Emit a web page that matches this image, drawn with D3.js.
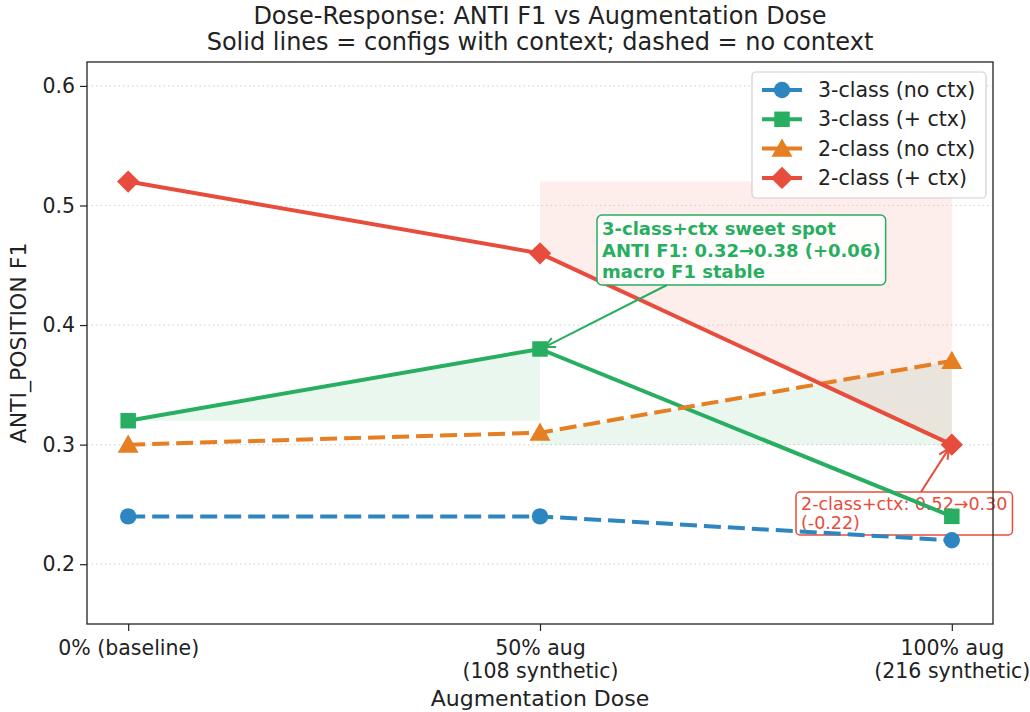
<!DOCTYPE html>
<html>
<head>
<meta charset="utf-8">
<script src="https://cdn.jsdelivr.net/npm/d3@7"></script>
<style>
  body { margin: 0; background: #fff; }
  text { font-family: 'DejaVu Sans', sans-serif; }
</style>
</head>
<body>
<script>
// chart data
let doses = [0, 1, 2]
let doseLabels = [['0% (baseline)'], ['50% aug', '(108 synthetic)'], ['100% aug', '(216 synthetic)']]
let seriesNames = ['3-class (no ctx)', '3-class (+ ctx)', '2-class (no ctx)', '2-class (+ ctx)']
let threeNoCtx = [0.24, 0.24, 0.22]
let threeCtx = [0.32, 0.38, 0.24]
let twoNoCtx = [0.30, 0.31, 0.37]
let twoCtx = [0.52, 0.46, 0.30]
let yTicks = [0.2, 0.3, 0.4, 0.5, 0.6]

// measurements
let m = { width: 1030, height: 712, left: 87, right: 993, top: 62, bottom: 624 }

let series = [
  { name: seriesNames[0], values: threeNoCtx, color: '#2e86c1', dashed: true, shape: 'circle' },
  { name: seriesNames[1], values: threeCtx, color: '#27ae60', dashed: false, shape: 'square' },
  { name: seriesNames[2], values: twoNoCtx, color: '#e67e22', dashed: true, shape: 'triangle' },
  { name: seriesNames[3], values: twoCtx, color: '#e74c3c', dashed: false, shape: 'diamond' },
]

let svg = d3.select('body')
  .append('svg')
  .attr('width', m.width)
  .attr('height', m.height)

let xScale = d3.scaleLinear().domain([-0.1, 2.1]).range([m.left, m.right])
let yScale = d3.scaleLinear().domain([0.15, 0.62]).range([m.bottom, m.top])

// arrow markers
let defs = svg.append('defs')
function arrowHead(id, color) {
  defs.append('marker')
    .attr('id', id)
    .attr('viewBox', '0 0 12 12')
    .attr('refX', 11).attr('refY', 6)
    .attr('markerWidth', 12).attr('markerHeight', 12)
    .attr('markerUnits', 'userSpaceOnUse')
    .attr('orient', 'auto')
    .append('path')
    .attr('d', 'M1,1 L11,6 L1,11')
    .attr('fill', 'none')
    .attr('stroke', color)
    .attr('stroke-width', 2)
}
arrowHead('arrG', '#27ae60')
arrowHead('arrR', '#e74c3c')

// grid
svg.append('g')
  .selectAll('line')
  .data(yTicks)
  .enter()
  .append('line')
    .attr('x1', m.left).attr('x2', m.right)
    .attr('y1', function(d) { return yScale(d) })
    .attr('y2', function(d) { return yScale(d) })
    .attr('stroke', '#d8d8d8')
    .attr('stroke-width', 1.2)
    .attr('stroke-dasharray', '1.5,3')

// shaded regions
let area = d3.area()
  .x(function(d) { return xScale(d[0]) })
  .y0(function(d) { return yScale(d[1]) })
  .y1(function(d) { return yScale(d[2]) })

// 3-class ctx gain, 0 -> 50%
svg.append('path')
  .datum([[doses[0], threeCtx[0], threeCtx[0]], [doses[1], threeCtx[0], threeCtx[1]]])
  .attr('d', area)
  .attr('fill', '#27ae60').attr('fill-opacity', 0.1)

// 2-class no ctx gain, 50 -> 100%
svg.append('path')
  .datum([[doses[1], twoNoCtx[0], twoNoCtx[1]], [doses[2], twoNoCtx[0], twoNoCtx[2]]])
  .attr('d', area)
  .attr('fill', '#27ae60').attr('fill-opacity', 0.1)

// 2-class ctx loss, 50 -> 100%
svg.append('path')
  .datum([[doses[1], twoCtx[1], twoCtx[0]], [doses[2], twoCtx[2], twoCtx[0]]])
  .attr('d', area)
  .attr('fill', '#e74c3c').attr('fill-opacity', 0.1)

// red annotation (drawn under the lines)
let redNote = svg.append('g')
let redText = redNote.append('text')
  .attr('fill', '#e74c3c')
  .attr('font-size', 17.5)
redText.append('tspan').attr('x', 801).attr('y', 510).text('2-class+ctx: 0.52\u21920.30')
redText.append('tspan').attr('x', 801).attr('y', 529).text('(-0.22)')
let rb = redText.node().getBBox()
redNote.insert('rect', 'text')
  .attr('x', rb.x - 5).attr('y', rb.y - 2)
  .attr('width', rb.width + 10).attr('height', rb.height + 4)
  .attr('rx', 4)
  .attr('fill', '#fff').attr('fill-opacity', 0.85)
  .attr('stroke', '#e74c3c').attr('stroke-width', 1.5)
svg.append('line')
  .attr('x1', 921).attr('y1', rb.y - 2)
  .attr('x2', xScale(doses[2]) - 3).attr('y2', yScale(twoCtx[2]) + 4)
  .attr('stroke', '#e74c3c').attr('stroke-width', 2)
  .attr('marker-end', 'url(#arrR)')

// lines
let line = d3.line()
  .x(function(d, i) { return xScale(doses[i]) })
  .y(function(d) { return yScale(d) })

series.forEach(function(s) {
  svg.append('path')
    .datum(s.values)
    .attr('d', line)
    .attr('fill', 'none')
    .attr('stroke', s.color)
    .attr('stroke-width', 4)
    .attr('stroke-dasharray', s.dashed ? '17,7' : null)
})

// marker symbols
function drawMarker(g, shape, cx, cy, color) {
  let sym = { circle: d3.symbolCircle, square: d3.symbolSquare, triangle: d3.symbolTriangle, diamond: d3.symbolSquare }
  let size = { circle: 210, square: 240, triangle: 190, diamond: 250 }
  let tr = 'translate(' + cx + ',' + (cy + (shape === 'triangle' ? 2 : 0)) + ')'
  if (shape === 'diamond') tr += ' rotate(45)'
  g.append('path')
    .attr('d', d3.symbol().type(sym[shape]).size(size[shape]))
    .attr('transform', tr)
    .attr('fill', color)
}

series.forEach(function(s) {
  s.values.forEach(function(v, i) {
    drawMarker(svg, s.shape, xScale(doses[i]), yScale(v), s.color)
  })
})

// green annotation (on top)
let greenNote = svg.append('g')
let greenText = greenNote.append('text')
  .attr('fill', '#27ae60')
  .attr('font-size', 18)
  .attr('font-weight', 'bold')
greenText.append('tspan').attr('x', 602).attr('y', 235).text('3-class+ctx sweet spot')
greenText.append('tspan').attr('x', 602).attr('y', 257).text('ANTI F1: 0.32\u21920.38 (+0.06)')
greenText.append('tspan').attr('x', 602).attr('y', 278).text('macro F1 stable')
let gb = greenText.node().getBBox()
greenNote.insert('rect', 'text')
  .attr('x', gb.x - 5).attr('y', gb.y - 3)
  .attr('width', gb.width + 10).attr('height', gb.height + 6)
  .attr('rx', 5)
  .attr('fill', '#fff').attr('fill-opacity', 0.9)
  .attr('stroke', '#27ae60').attr('stroke-width', 1.5)
svg.append('line')
  .attr('x1', 667).attr('y1', gb.y + gb.height + 3)
  .attr('x2', xScale(doses[1]) + 5).attr('y2', yScale(threeCtx[1]) - 2)
  .attr('stroke', '#27ae60').attr('stroke-width', 2)
  .attr('marker-end', 'url(#arrG)')

// axes
let xAxis = d3.axisBottom(xScale).tickValues(doses).tickSize(7).tickFormat('')
let yAxis = d3.axisLeft(yScale).tickValues(yTicks).tickSize(7).tickFormat(d3.format('.1f'))

let gx = svg.append('g')
  .attr('transform', 'translate(0,' + m.bottom + ')')
  .call(xAxis)
gx.select('.domain').remove()
gx.selectAll('line').attr('stroke', '#222').attr('stroke-width', 1.2)
gx.selectAll('.tick').each(function(d, i) {
  let t = d3.select(this).append('text')
    .attr('fill', '#222')
    .attr('font-size', 20.5)
    .attr('text-anchor', 'middle')
  doseLabels[i].forEach(function(lbl, j) {
    t.append('tspan').attr('x', 0).attr('y', 31 + j * 23).text(lbl)
  })
})

let gy = svg.append('g')
  .attr('transform', 'translate(' + m.left + ',0)')
  .call(yAxis)
gy.select('.domain').remove()
gy.selectAll('line').attr('stroke', '#222').attr('stroke-width', 1.2)
gy.selectAll('text').attr('font-size', 20.5).attr('fill', '#222').attr('x', -12)

// frame
svg.append('rect')
  .attr('x', m.left).attr('y', m.top)
  .attr('width', m.right - m.left).attr('height', m.bottom - m.top)
  .attr('fill', 'none')
  .attr('stroke', '#222')
  .attr('stroke-width', 1.3)

// axis labels
svg.append('text')
  .attr('x', (m.left + m.right) / 2).attr('y', 706)
  .attr('text-anchor', 'middle')
  .attr('font-size', 22)
  .attr('fill', '#222')
  .text('Augmentation Dose')

svg.append('text')
  .attr('transform', 'translate(26,' + ((m.top + m.bottom) / 2) + ') rotate(-90)')
  .attr('text-anchor', 'middle')
  .attr('font-size', 22)
  .attr('fill', '#222')
  .text('ANTI_POSITION F1')

// title
svg.append('text')
  .attr('x', (m.left + m.right) / 2).attr('y', 24)
  .attr('text-anchor', 'middle')
  .attr('font-size', 24)
  .attr('fill', '#222')
  .text('Dose-Response: ANTI F1 vs Augmentation Dose')
svg.append('text')
  .attr('x', (m.left + m.right) / 2).attr('y', 50)
  .attr('text-anchor', 'middle')
  .attr('font-size', 24)
  .attr('fill', '#222')
  .text('Solid lines = configs with context; dashed = no context')

// legend
let leg = svg.append('g')
leg.append('rect')
  .attr('x', 752).attr('y', 72)
  .attr('width', 234).attr('height', 126)
  .attr('rx', 4)
  .attr('fill', '#fff').attr('fill-opacity', 0.85)
  .attr('stroke', '#d0d0d0').attr('stroke-width', 1.2)

series.forEach(function(s, i) {
  let ly = 90 + i * 29.3
  leg.append('line')
    .attr('x1', 762).attr('x2', 802)
    .attr('y1', ly).attr('y2', ly)
    .attr('stroke', s.color)
    .attr('stroke-width', 4)
    .attr('stroke-dasharray', s.dashed ? '17,6' : null)
  drawMarker(leg, s.shape, 782, ly, s.color)
  leg.append('text')
    .attr('x', 818).attr('y', ly + 7)
    .attr('font-size', 20.5)
    .attr('fill', '#222')
    .text(s.name)
})
</script>
</body>
</html>
